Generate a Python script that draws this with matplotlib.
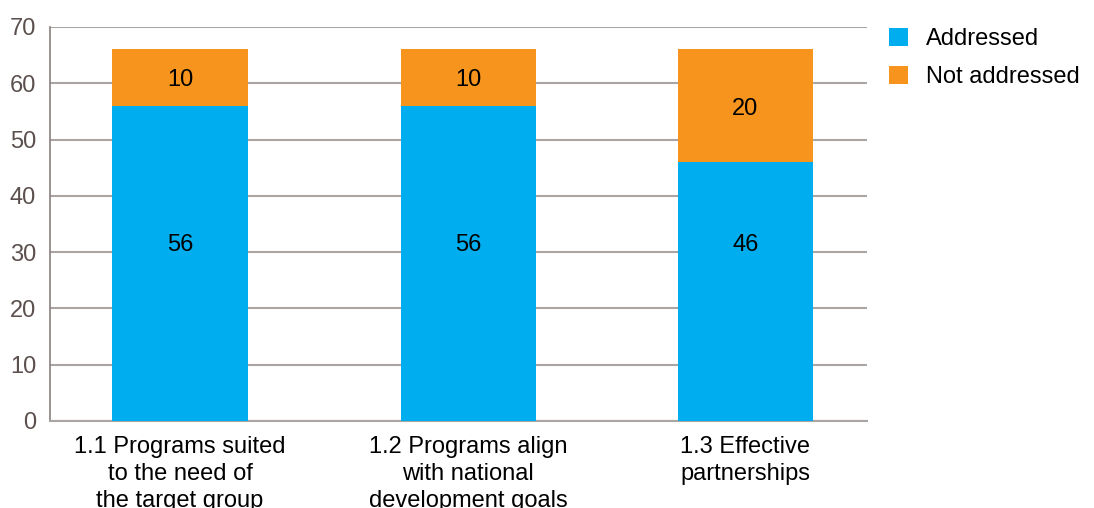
import numpy as np
import matplotlib.pyplot as plt

categories = ["1.1 Programs suited\nto the need of\nthe target group",
              "1.2 Programs align\nwith national\ndevelopment goals",
              "1.3 Effective\npartnerships"]
addressed = [56, 56, 46]
not_addressed = [10, 10, 20]
series_names = ["Addressed", "Not addressed"]
yticks = [0, 10, 20, 30, 40, 50, 60, 70]

plt.rcParams['font.family'] = ['Liberation Sans', 'DejaVu Sans']

BLUE = "#00AEEF"
ORANGE = "#F7941D"
GRID = "#aaa4a2"
TICK = "#5b504d"
FS = 17

fig = plt.figure(figsize=(10.94, 5.08), dpi=100)
ax = fig.add_axes([0.0457, 0.1713, 0.7468, 0.7756])

x = np.array([0, 1.02, 2.0])
w = 0.478
ax.bar(x, addressed, w, color=BLUE, label=series_names[0], zorder=3)
ax.bar(x, not_addressed, w, bottom=addressed, color=ORANGE,
       label=series_names[1], zorder=3)

for i in range(len(x)):
    ax.text(x[i], 31.2, str(addressed[i]), ha="center",
            va="center", fontsize=FS, color="black", zorder=4)
    ax.text(x[i], addressed[i] + not_addressed[i] / 2 - 0.5, str(not_addressed[i]),
            ha="center", va="center", fontsize=FS, color="black", zorder=4)

ax.set_ylim(0, 70)
ax.set_xlim(-0.46, 2.43)
ax.set_yticks(yticks)
ax.set_yticklabels([str(t) for t in yticks], fontsize=FS, color=TICK)
ax.set_xticks(x)
ax.set_xticklabels(categories, fontsize=FS, linespacing=1.3)
ax.tick_params(axis="both", length=0)
ax.tick_params(axis="x", pad=11)
ax.tick_params(axis="y", pad=10)
ax.yaxis.grid(True, color=GRID, linewidth=1.5, zorder=0)
for s in ["top", "right"]:
    ax.spines[s].set_visible(False)
ax.spines["left"].set_color("#8a807d")
ax.spines["left"].set_linewidth(1.2)
ax.spines["bottom"].set_color(GRID)
ax.spines["bottom"].set_linewidth(1.5)

leg = ax.legend(loc="upper left", bbox_to_anchor=(0.813, 0.945),
                bbox_transform=fig.transFigure, frameon=False, fontsize=FS,
                handlelength=0.78, handleheight=0.78, handletextpad=0.75,
                labelspacing=0.68, borderaxespad=0, borderpad=0)

fig.savefig("out.png", dpi=100)
